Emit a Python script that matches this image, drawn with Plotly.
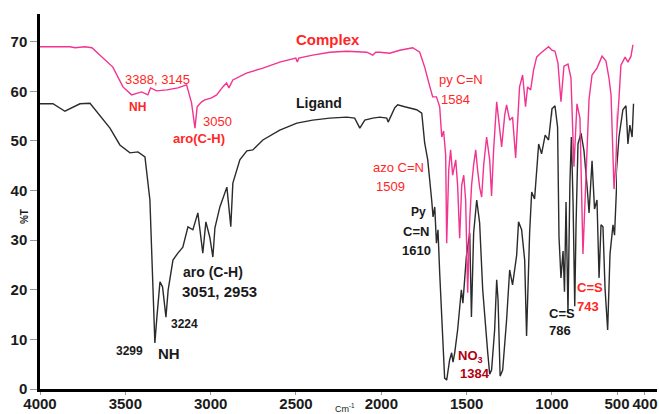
import plotly.graph_objects as go

# FT-IR spectra: wavenumber (cm-1) and transmittance (%T)
complex_wn = [4000, 3912, 3824, 3795, 3737, 3696, 3649, 3573, 3514, 3463, 3405, 3368, 3352, 3317,
              3256, 3192, 3141, 3112, 3092, 3079, 3053, 3034, 2995, 2965, 2929, 2907, 2893, 2870,
              2790, 2694, 2595, 2501, 2492, 2484, 2402, 2302, 2203, 2085, 2050, 2033, 2009, 1951,
              1892, 1816, 1775, 1746, 1717, 1699, 1677, 1658, 1646, 1635, 1623, 1617, 1605, 1594,
              1582, 1564, 1553, 1541, 1529, 1517, 1506, 1494, 1482, 1471, 1459, 1447, 1436, 1424,
              1412, 1400, 1383, 1365, 1354, 1342, 1324, 1307, 1295, 1277, 1266, 1248, 1231, 1213,
              1201, 1190, 1172, 1155, 1143, 1125, 1108, 1090, 1067, 1043, 1020, 1000, 977, 954,
              931, 908, 877, 854, 838, 831, 808, 785, 762, 738, 715, 692, 654, 615, 585, 562, 546,
              523, 508, 493, 486, 471, 461, 450, 443]
complex_t = [69.0, 69.0, 69.0, 68.8, 69.0, 68.8, 67.3, 64.9, 60.9, 59.3, 59.9, 59.3, 60.7, 60.1,
             60.3, 60.7, 61.3, 57.7, 52.6, 56.9, 57.9, 58.3, 58.7, 59.3, 60.9, 61.7, 60.7, 62.3,
             63.7, 64.7, 65.9, 66.7, 65.9, 66.7, 67.3, 67.9, 68.1, 67.9, 67.3, 67.9, 67.9, 67.7,
             68.3, 68.8, 67.9, 64.9, 61.1, 58.9, 58.9, 56.9, 50.8, 52.0, 47.2, 29.4, 44.2, 48.2,
             43.1, 46.2, 41.1, 30.4, 41.1, 43.1, 38.1, 19.4, 34.1, 41.1, 45.2, 48.2, 44.2, 40.7,
             38.7, 45.2, 50.8, 46.2, 38.9, 48.2, 57.9, 52.2, 48.8, 55.2, 57.3, 54.2, 54.8, 46.6,
             54.2, 60.9, 63.3, 56.9, 60.9, 60.3, 64.3, 66.9, 67.7, 68.3, 69.0, 68.3, 68.1, 65.7,
             57.9, 65.1, 65.5, 62.7, 49.6, 44.8, 57.5, 54.6, 27.2, 42.5, 58.5, 63.3, 64.7, 67.1,
             66.1, 62.7, 59.3, 40.3, 46.0, 58.5, 65.3, 66.9, 65.9, 67.1, 69.4]

ligand_wn = [4000, 3924, 3854, 3766, 3707, 3649, 3590, 3532, 3473, 3426, 3385, 3356, 3344, 3333,
             3327, 3315, 3297, 3282, 3262, 3249, 3221, 3192, 3163, 3133, 3104, 3075, 3046, 3028,
             3005, 2987, 2975, 2946, 2905, 2882, 2870, 2829, 2788, 2753, 2694, 2595, 2495, 2402,
             2302, 2203, 2156, 2126, 2097, 2050, 2009, 1968, 1960, 1921, 1904, 1863, 1834, 1793,
             1763, 1746, 1728, 1717, 1705, 1697, 1687, 1677, 1668, 1658, 1640, 1629, 1617, 1600,
             1588, 1580, 1570, 1553, 1531, 1522, 1502, 1482, 1472, 1459, 1441, 1424, 1406, 1389,
             1377, 1365, 1354, 1336, 1324, 1316, 1304, 1289, 1266, 1248, 1231, 1207, 1196, 1178,
             1160, 1149, 1131, 1119, 1102, 1078, 1061, 1040, 1020, 1000, 977, 957, 946, 931, 915,
             904, 892, 877, 862, 851, 838, 825, 815, 800, 777, 754, 731, 715, 692, 673, 654, 638,
             623, 608, 592, 572, 554, 531, 519, 508, 493, 479, 468, 461, 454, 446, 441]
ligand_t = [57.5, 57.5, 56.0, 57.5, 57.6, 55.2, 52.6, 49.2, 47.6, 47.8, 46.8, 38.1, 24.6, 11.9,
            9.3, 14.5, 21.6, 20.6, 14.5, 20.0, 26.0, 27.4, 28.6, 32.7, 32.1, 35.5, 27.4, 33.7,
            30.6, 26.6, 32.5, 36.7, 40.7, 32.7, 41.5, 46.2, 48.0, 48.2, 50.2, 52.2, 53.6, 54.2,
            54.6, 54.8, 54.6, 52.6, 54.2, 54.6, 54.8, 54.6, 53.8, 56.7, 57.3, 56.9, 56.7, 56.3,
            55.6, 49.6, 46.2, 42.7, 38.1, 34.7, 36.7, 29.4, 32.1, 23.4, 9.9, 2.2, 1.8, 5.8,
            7.3, 5.4, 7.3, 11.9, 20.0, 17.3, 26.6, 31.5, 14.5, 31.5, 38.1, 33.5, 20.0, 11.9,
            7.5, 3.0, 3.8, 11.9, 22.0, 17.9, 2.6, 3.8, 13.9, 24.0, 21.0, 27.0, 33.7, 32.1,
            26.0, 10.7, 31.5, 39.7, 38.3, 49.4, 47.4, 51.2, 50.2, 56.5, 57.1, 52.8, 30.6, 22.4, 27.8,
            19.6, 37.7, 15.3, 41.7, 50.8, 37.7, 16.7, 33.1, 49.4, 51.6, 48.0, 41.1, 35.5, 46.0, 36.3,
            38.1, 22.4, 33.1, 32.7, 20.2, 11.9, 27.2, 33.1, 31.0, 39.1, 50.8, 56.3, 57.1, 49.4, 53.2,
            50.8, 57.5]

# the wavenumber axis changes scale at 1000 and 500 cm-1
x_ticks_high = [4000, 3500, 3000, 2500, 2000, 1500]
x_ticks_mid = [1000]
x_ticks_low = [500, 400]
y_ticks = [0, 10, 20, 30, 40, 50, 60, 70]

RED = "#ff2626"
DARK_RED = "#b3000f"
BLACK = "#1a1a1a"
FONT = "Arial, Liberation Sans, sans-serif"

fig = go.Figure()
for xa in ["x", "x2", "x3"]:
    fig.add_trace(go.Scatter(x=ligand_wn, y=ligand_t, mode="lines", name="Ligand",
                             xaxis=xa, yaxis="y",
                             line=dict(color="#2b2b2b", width=1.4)))
    fig.add_trace(go.Scatter(x=complex_wn, y=complex_t, mode="lines", name="Complex",
                             xaxis=xa, yaxis="y",
                             line=dict(color="#f2338f", width=1.4)))

# peak labels: (text, axis, wavenumber, %T, colour, size, bold)
labels = [
    ("Complex", "x", 2314, 70.4, RED, 15, True),
    ("Ligand", "x", 2366, 57.7, BLACK, 14, True),
    ("3388, 3145", "x", 3312, 62.3, RED, 13, False),
    ("NH", "x", 3426, 56.9, RED, 12, True),
    ("3050", "x", 2961, 53.9, RED, 13, False),
    ("aro(C-H)", "x", 3069, 50.5, RED, 13, True),
    ("py C=N", "x", 1532, 62.3, RED, 13, False),
    ("1584", "x", 1564, 58.3, RED, 13, False),
    ("azo C=N", "x", 1898, 44.6, RED, 13, False),
    ("1509", "x", 1945, 40.8, RED, 13, False),
    ("Py", "x", 1781, 35.7, BLACK, 12, True),
    ("C=N", "x", 1799, 31.7, BLACK, 13, True),
    ("1610", "x", 1793, 28.0, BLACK, 13, True),
    ("aro (C-H)", "x", 2984, 23.6, BLACK, 14, True),
    ("3051, 2953", "x", 2948, 19.6, BLACK, 15, True),
    ("3224", "x", 3154, 13.2, BLACK, 12, True),
    ("3299", "x", 3475, 7.7, BLACK, 12, True),
    ("NH", "x", 3245, 7.2, BLACK, 15, True),
    ("NO<sub>3</sub>", "x", 1476, 6.5, DARK_RED, 13, True),
    ("1384", "x", 1453, 3.2, DARK_RED, 13, True),
    ("C=S", "x2", 926, 15.3, BLACK, 13, True),
    ("786", "x2", 938, 11.7, BLACK, 13, True),
    ("C=S", "x2", 708, 20.4, RED, 13, True),
    ("743", "x2", 723, 16.7, RED, 13, True),
]
for text, xa, wx, ty, col, size, bold in labels:
    fig.add_annotation(x=wx, y=ty, xref=xa, yref="y", text=text, showarrow=False,
                       xanchor="center", yanchor="middle",
                       font=dict(family=FONT, size=size, color=col,
                                 weight="bold" if bold else "normal"))

fig.add_annotation(x=-0.024, y=0.459, xref="paper", yref="paper", text="%T",
                   textangle=-90, showarrow=False, xanchor="center", yanchor="middle",
                   font=dict(family=FONT, size=10, color=BLACK, weight="bold"))
fig.add_annotation(x=2214, y=-0.05, xref="x", yref="paper", text="Cm<sup>-1</sup>",
                   showarrow=False, xanchor="center", yanchor="middle",
                   font=dict(family=FONT, size=9, color=BLACK))

tick_font = dict(family=FONT, size=15, color=BLACK, weight="bold")
x_common = dict(showgrid=False, zeroline=False, showline=True, linecolor="black",
                linewidth=2.5, ticks="outside", ticklen=3, tickcolor="#999999",
                tickwidth=1, tickfont=tick_font, anchor="y", tickangle=0,
                ticklabelstandoff=-4, automargin=False)

fig.update_layout(
    width=659, height=414,
    margin=dict(l=40, r=2, t=14, b=25),
    paper_bgcolor="white", plot_bgcolor="white",
    showlegend=False,
    xaxis=dict(range=[4000, 1000], tickvals=x_ticks_high, domain=[0, 0.8298], **x_common),
    xaxis2=dict(range=[1000, 500], tickvals=x_ticks_mid, domain=[0.8298, 0.9352], **x_common),
    xaxis3=dict(range=[500, 357], tickvals=x_ticks_low, domain=[0.9352, 1.0], **x_common),
    yaxis=dict(range=[0, 75.6], tickvals=y_ticks, showgrid=False, zeroline=False,
               showline=True, linecolor="black", linewidth=2.5, anchor="x",
               ticks="outside", ticklen=7, tickcolor="#999999", tickwidth=1,
               tickfont=tick_font, automargin=False),
)

fig.write_html("out.html")
